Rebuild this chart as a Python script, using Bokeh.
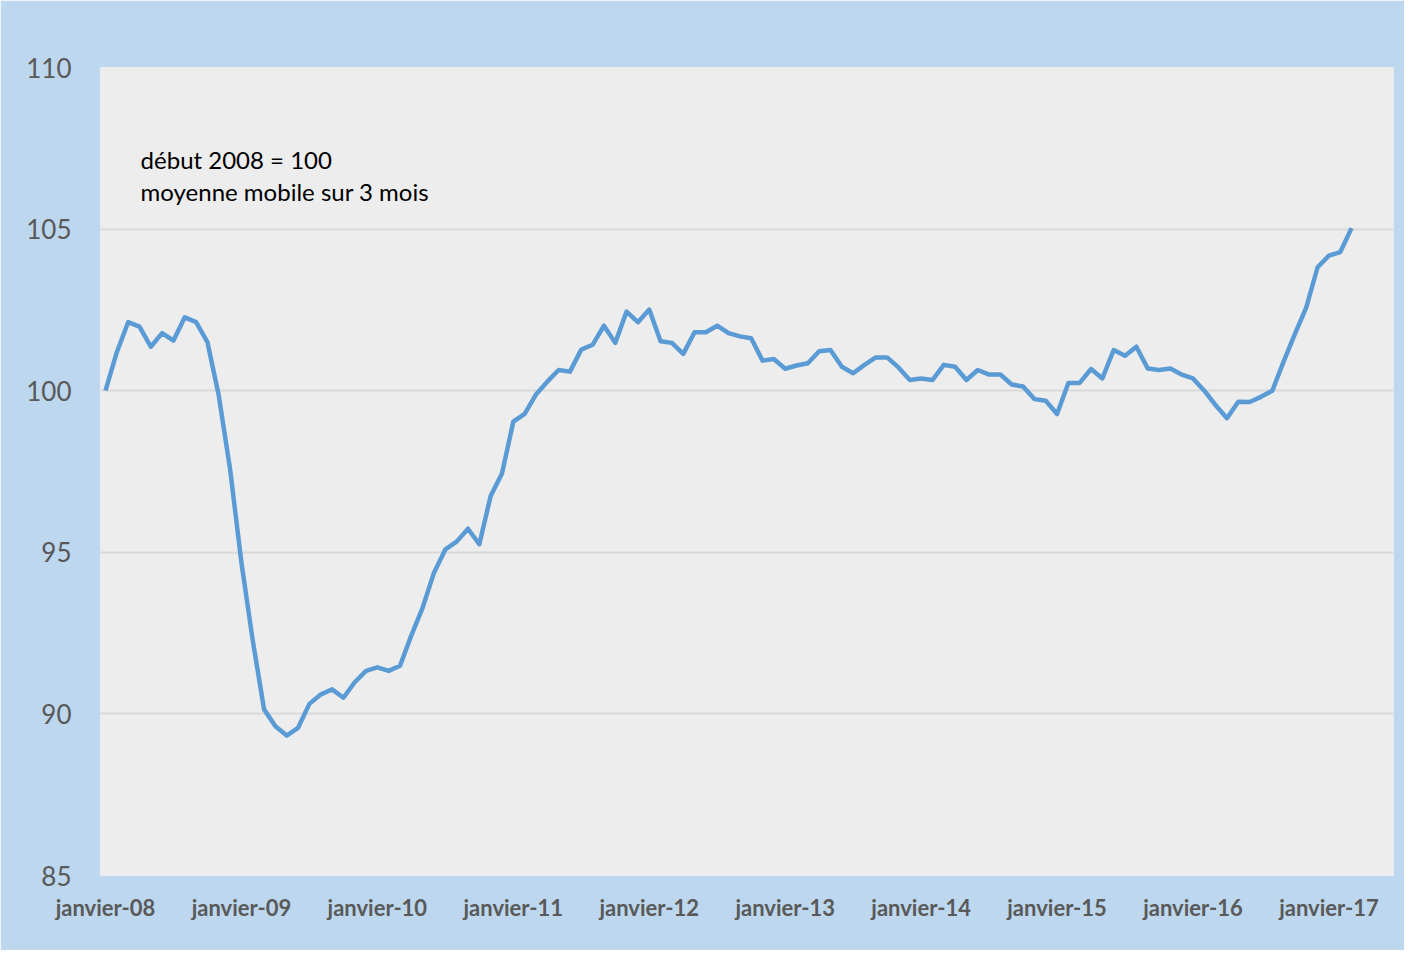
from bokeh.plotting import figure
from bokeh.models import Range1d, FixedTicker, Label
from bokeh.embed import file_html
from bokeh.resources import INLINE

# Monthly index, janvier 2008 .. mars 2017 (début 2008 = 100, moyenne mobile sur 3 mois)
values = [
    100.00, 101.19, 102.12, 101.98, 101.36, 101.78, 101.55, 102.27, 102.12, 101.50,
    99.85, 97.57, 94.68, 92.27, 90.14, 89.62, 89.33, 89.57, 90.31, 90.60,
    90.76, 90.50, 90.98, 91.33, 91.44, 91.33, 91.49, 92.43, 93.29, 94.37,
    95.09, 95.33, 95.73, 95.25, 96.74, 97.44, 99.04, 99.28, 99.88, 100.28,
    100.64, 100.59, 101.27, 101.42, 102.01, 101.48, 102.45, 102.12, 102.51, 101.53,
    101.48, 101.14, 101.81, 101.81, 102.01, 101.78, 101.68, 101.62, 100.93, 100.98,
    100.68, 100.78, 100.85, 101.22, 101.26, 100.74, 100.54, 100.80, 101.03, 101.03,
    100.72, 100.33, 100.38, 100.33, 100.80, 100.74, 100.33, 100.64, 100.50, 100.50,
    100.19, 100.13, 99.74, 99.69, 99.28, 100.24, 100.24, 100.67, 100.38, 101.26,
    101.08, 101.36, 100.69, 100.64, 100.69, 100.50, 100.38, 100.00, 99.55, 99.15,
    99.66, 99.65, 99.81, 100.00, 100.90, 101.76, 102.58, 103.82, 104.18, 104.29,
    105.03,
]
months = list(range(len(values)))

tick_positions = [0, 12, 24, 36, 48, 60, 72, 84, 96, 108]
tick_labels = ["janvier-08", "janvier-09", "janvier-10", "janvier-11", "janvier-12",
               "janvier-13", "janvier-14", "janvier-15", "janvier-16", "janvier-17"]
y_ticks = [85, 90, 95, 100, 105, 110]
note_lines = ["début 2008 = 100", "moyenne mobile sur 3 mois"]

p = figure(width=1404, height=950, output_backend="svg", toolbar_location=None,
           x_range=Range1d(-0.44, 113.7), y_range=Range1d(85, 110),
           min_border_left=100, min_border_right=11, min_border_top=67, min_border_bottom=75)

p.background_fill_color = "#EDEDED"
p.border_fill_color = "#BDD7EE"
p.outline_line_color = None

p.line(months, values, line_color="#5B9BD5", line_width=4.5, line_join="round")

# Axes
p.xaxis.ticker = FixedTicker(ticks=tick_positions)
p.xaxis.major_label_overrides = {t: l for t, l in zip(tick_positions, tick_labels)}
p.xaxis.major_label_text_font = "Lato"
p.xaxis.major_label_text_font_style = "bold"
p.xaxis.major_label_text_font_size = "22px"
p.xaxis.major_label_text_color = "#595959"
p.xaxis.major_label_standoff = 12
p.yaxis.ticker = FixedTicker(ticks=y_ticks)
p.yaxis.major_label_text_font = "Lato"
p.yaxis.major_label_text_font_size = "26px"
p.yaxis.major_label_text_color = "#595959"
p.yaxis.major_label_standoff = 23
for ax in (p.xaxis, p.yaxis):
    ax.axis_line_color = None
    ax.major_tick_line_color = None
    ax.minor_tick_line_color = None

p.xgrid.grid_line_color = None
p.ygrid.grid_line_color = "#D9D9D9"
p.ygrid.grid_line_width = 2

for txt, yv in zip(note_lines, [107.15, 106.16]):
    p.add_layout(Label(x=3.1, y=yv, text=txt, text_font="Lato", text_font_size="24px",
                       text_color="#000000", text_baseline="middle", text_align="left"))

open("out.html", "w").write(file_html(p, INLINE))
